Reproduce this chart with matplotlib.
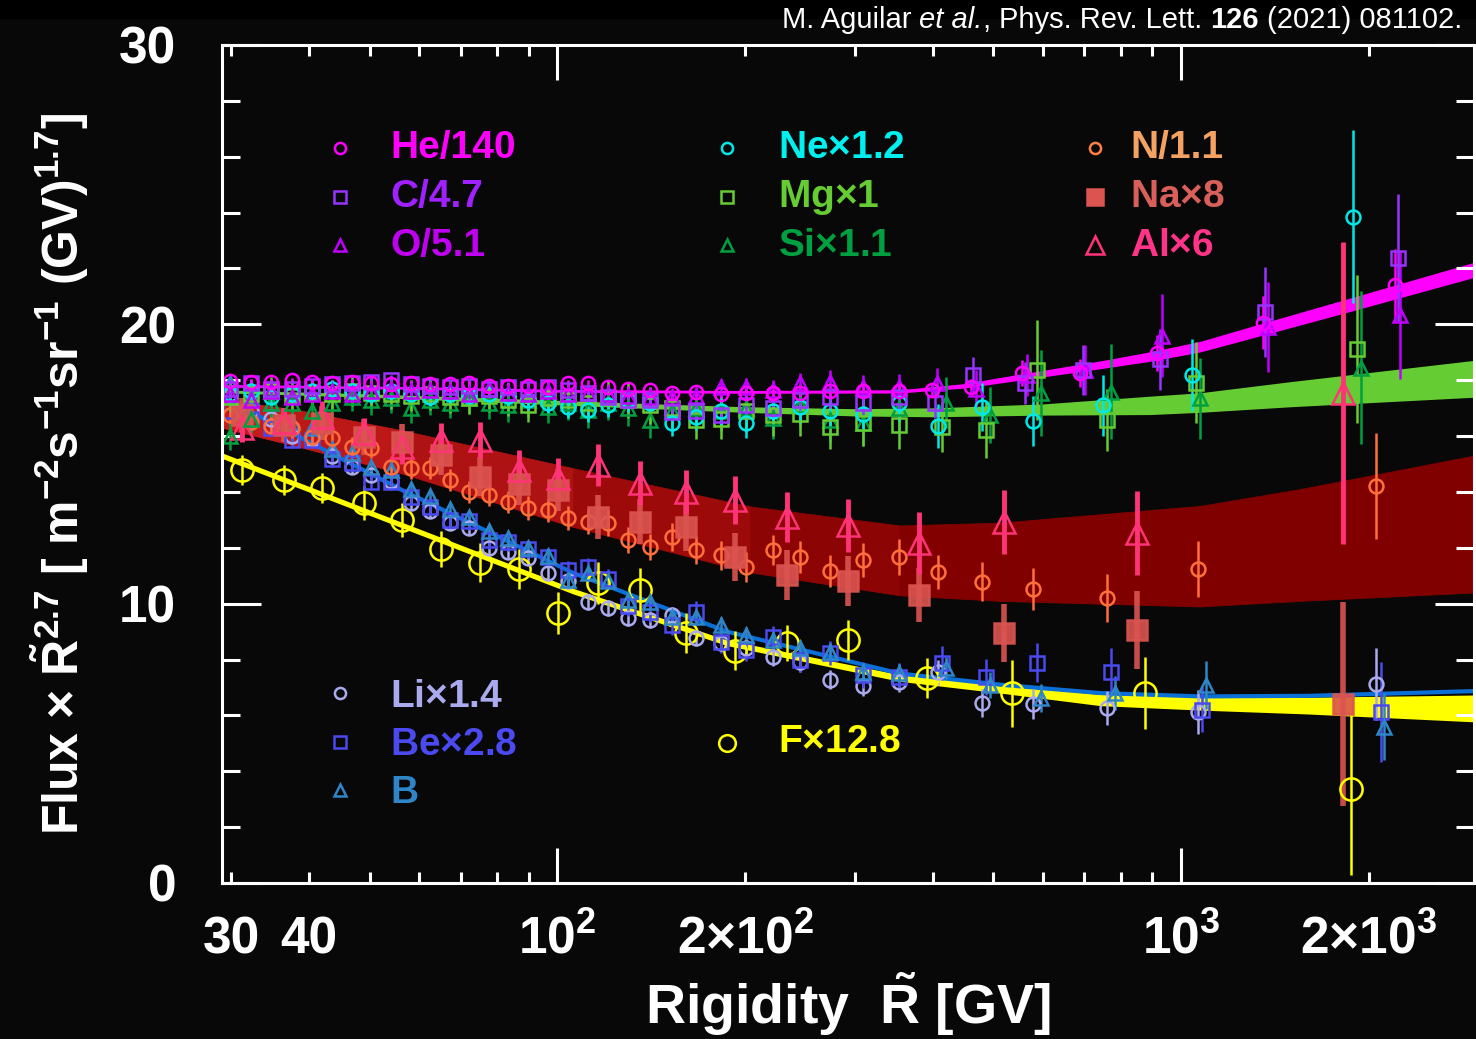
import matplotlib
matplotlib.use("Agg")
import matplotlib.pyplot as plt
import matplotlib.transforms as mtransforms
from matplotlib.patches import Rectangle
from matplotlib.lines import Line2D
from matplotlib.ticker import FixedLocator, NullFormatter

plt.rcParams["font.family"] = ["Liberation Sans", "DejaVu Sans"]
plt.rcParams["font.weight"] = "bold"
plt.rcParams["mathtext.fontset"] = "custom"
plt.rcParams["mathtext.rm"] = "Liberation Sans"
plt.rcParams["mathtext.it"] = "Liberation Sans:italic"
plt.rcParams["mathtext.bf"] = "Liberation Sans:bold"

BG = "#080808"

# rigidity bin centres [GV]
R_FINE = [29.9, 32.3, 34.8, 37.5, 40.4, 43.5, 46.8, 50.3, 54.1, 58.2,
          62.5, 67.2, 72.3, 77.7, 83.5, 89.7, 96.5, 104, 112, 120.5,
          130, 141, 153, 167, 183, 201, 222, 245, 274, 309, 353]
R_HCO = [399, 460, 556, 689, 915, 1352, 2203]
R_NMS = [408, 480, 580, 750, 1040, 1890]
R_LBB = [408, 480, 580, 760, 1066, 2058]
R_COARSE = [31.2, 36.4, 42.0, 48.9, 56.4, 65.0, 75.3, 86.9, 100.4, 116.3,
            135.8, 160.9, 192.7, 233.7, 292.6, 380, 520, 850, 1820]

# flux x R^2.7 (scaled)
HE_V = [17.97, 17.95, 17.95, 18.0, 17.95, 17.9, 17.95, 17.9, 17.85, 17.9,
        17.85, 17.85, 17.9, 17.8, 17.8, 17.8, 17.75, 17.9, 17.9, 17.76,
        17.7, 17.65, 17.54, 17.58, 17.5, 17.54, 17.55, 17.55, 17.6, 17.62,
        17.6, 17.65, 17.76, 18.26, 18.26, 18.97, 20.05, 21.41]
HE_E = [0.08, 0.08, 0.08, 0.08, 0.08, 0.08, 0.08, 0.08, 0.08, 0.08,
        0.08, 0.09, 0.09, 0.09, 0.09, 0.1, 0.1, 0.1, 0.1, 0.11,
        0.11, 0.12, 0.12, 0.13, 0.13, 0.14, 0.15, 0.16, 0.17, 0.18,
        0.2, 0.25, 0.3, 0.45, 0.5, 0.65, 0.95, 1.3]
C_V = [17.7, 17.9, 17.7, 17.7, 17.8, 17.85, 17.9, 17.95, 18.0, 17.85,
       17.8, 17.75, 17.8, 17.7, 17.75, 17.7, 17.75, 17.65, 17.54, 17.4,
       17.3, 17.3, 16.87, 16.9, 16.76, 17.1, 17.0, 17.3, 17.4, 17.2,
       17.4, 17.19, 18.19, 17.9, 18.37, 18.75, 20.44, 22.38]
C_E = [0.15, 0.15, 0.15, 0.15, 0.15, 0.15, 0.16, 0.16, 0.17, 0.17,
       0.18, 0.18, 0.19, 0.2, 0.2, 0.21, 0.22, 0.23, 0.24, 0.25,
       0.26, 0.27, 0.28, 0.3, 0.31, 0.33, 0.35, 0.37, 0.4, 0.43,
       0.47, 0.55, 0.65, 0.75, 0.9, 1.1, 1.6, 2.3]
O_V = [17.5, 17.3, 17.6, 17.4, 17.5, 17.6, 17.5, 17.6, 17.7, 17.6,
       17.65, 17.6, 17.5, 17.7, 17.55, 17.5, 17.6, 17.5, 17.55, 17.5,
       17.45, 17.4, 17.4, 17.45, 17.75, 17.75, 17.65, 17.9, 17.95, 17.75,
       17.75, 17.9, 17.7, 18.19, 18.37, 19.6, 19.9, 20.34]
O_E = [0.15, 0.15, 0.15, 0.15, 0.15, 0.15, 0.16, 0.16, 0.17, 0.17,
       0.18, 0.18, 0.19, 0.2, 0.2, 0.21, 0.22, 0.23, 0.24, 0.25,
       0.26, 0.27, 0.28, 0.3, 0.31, 0.33, 0.35, 0.37, 0.4, 0.43,
       0.47, 0.55, 0.65, 0.75, 0.9, 1.5, 1.6, 2.3]
NE_V = [17.5, 17.6, 17.4, 17.5, 17.6, 17.7, 17.6, 17.5, 17.6, 17.5,
        17.4, 17.5, 17.45, 17.5, 17.45, 17.3, 17.2, 17.04, 16.93, 17.1,
        17.3, 17.2, 16.47, 16.7, 16.9, 16.47, 16.9, 17.04, 16.9, 16.8,
        17.2, 16.36, 17.04, 16.54, 17.1, 18.19, 23.85]
NE_E = [0.3, 0.3, 0.3, 0.3, 0.3, 0.3, 0.3, 0.32, 0.32, 0.33,
        0.33, 0.34, 0.35, 0.36, 0.37, 0.38, 0.4, 0.4, 0.42, 0.43,
        0.45, 0.46, 0.48, 0.5, 0.52, 0.54, 0.56, 0.58, 0.6, 0.63,
        0.66, 0.8, 0.85, 0.9, 1.1, 1.3, 3.1]
MG_V = [17.4, 17.5, 17.6, 17.45, 17.55, 17.5, 17.6, 17.55, 17.5, 17.45,
        17.5, 17.4, 17.35, 17.45, 17.3, 17.1, 17.35, 17.3, 17.2, 17.36,
        17.3, 17.1, 17.0, 16.58, 16.6, 16.9, 16.76, 16.8, 16.33, 16.45,
        16.4, 16.33, 16.22, 18.37, 16.58, 17.9, 19.12]
MG_E = [0.5, 0.5, 0.5, 0.5, 0.5, 0.52, 0.52, 0.53, 0.54, 0.55,
        0.55, 0.56, 0.57, 0.58, 0.59, 0.6, 0.6, 0.62, 0.63, 0.64,
        0.65, 0.66, 0.68, 0.7, 0.72, 0.74, 0.76, 0.78, 0.8, 0.82,
        0.85, 0.9, 1.0, 1.8, 1.1, 1.45, 2.65]
SI_V = [16.0, 16.6, 17.2, 17.2, 16.9, 17.2, 17.4, 17.3, 17.35, 17.0,
        17.3, 17.2, 17.35, 17.2, 17.1, 17.3, 17.05, 17.2, 16.93, 17.2,
        17.0, 16.58, 16.9, 17.0, 16.9, 17.0, 16.65, 17.1, 16.58, 16.47,
        17.0, 17.2, 16.76, 17.54, 17.58, 17.36, 18.45]
SI_E = [0.5, 0.5, 0.5, 0.5, 0.5, 0.52, 0.52, 0.53, 0.54, 0.55,
        0.55, 0.56, 0.57, 0.58, 0.59, 0.6, 0.6, 0.62, 0.63, 0.64,
        0.65, 0.66, 0.68, 0.7, 0.72, 0.74, 0.76, 0.78, 0.8, 0.82,
        0.85, 0.9, 1.0, 1.55, 1.7, 1.45, 2.75]
N_V = [16.76, 16.5, 16.36, 16.29, 15.97, 15.93, 15.61, 15.57, 14.89, 14.86,
       14.86, 14.43, 14.0, 13.89, 13.64, 13.43, 13.36, 13.07, 12.93, 12.89,
       12.28, 12.03, 12.39, 11.92, 11.74, 11.31, 11.92, 11.67, 11.17, 11.56,
       11.67, 11.13, 10.78, 10.53, 10.2, 11.24, 14.21]
N_E = [0.35, 0.35, 0.35, 0.35, 0.35, 0.36, 0.36, 0.37, 0.37, 0.38,
       0.38, 0.39, 0.4, 0.4, 0.41, 0.42, 0.43, 0.44, 0.45, 0.46,
       0.47, 0.48, 0.5, 0.51, 0.52, 0.54, 0.55, 0.57, 0.59, 0.61,
       0.63, 0.6, 0.7, 0.75, 0.85, 1.0, 1.9]
LI_V = [17.5, 16.9, 16.6, 16.0, 15.9, 15.3, 14.9, 14.6, 14.4, 13.6,
        13.3, 12.9, 12.7, 12.0, 11.86, 11.64, 11.1, 10.8, 10.06, 9.85,
        9.49, 9.42, 9.6, 8.77, 8.6, 8.4, 8.09, 7.9, 7.27, 7.05,
        7.2, 7.55, 6.44, 6.41, 6.27, 6.12, 7.12]
LI_E = [0.25, 0.25, 0.25, 0.25, 0.25, 0.25, 0.25, 0.25, 0.25, 0.25,
        0.25, 0.25, 0.25, 0.26, 0.26, 0.26, 0.27, 0.27, 0.27, 0.28,
        0.28, 0.29, 0.29, 0.3, 0.3, 0.31, 0.32, 0.33, 0.34, 0.35,
        0.36, 0.45, 0.5, 0.55, 0.6, 0.8, 1.3]
BE_V = [16.9, 16.6, 16.29, 15.87, 15.86, 15.18, 15.04, 14.36, 14.36, 13.82,
        13.46, 13.0, 12.96, 12.28, 12.21, 11.96, 11.67, 11.2, 11.3, 10.9,
        9.9, 9.7, 9.24, 9.7, 8.63, 8.34, 8.8, 7.98, 8.23, 7.45,
        7.38, 7.88, 7.38, 7.88, 7.55, 6.2, 6.12]
BE_E = [0.3, 0.3, 0.3, 0.3, 0.3, 0.3, 0.3, 0.3, 0.3, 0.3,
        0.3, 0.3, 0.31, 0.31, 0.32, 0.32, 0.33, 0.33, 0.34, 0.35,
        0.35, 0.36, 0.37, 0.38, 0.39, 0.4, 0.41, 0.42, 0.44, 0.46,
        0.48, 0.6, 0.65, 0.7, 0.85, 0.8, 1.8]
B_V = [17.9, 17.4, 17.2, 16.5, 16.3, 15.55, 15.4, 14.9, 14.8, 14.1,
       13.86, 13.4, 13.1, 12.6, 12.35, 12.0, 11.7, 10.85, 11.1, 10.8,
       10.13, 10.06, 9.52, 9.52, 9.24, 8.88, 8.7, 8.41, 8.27, 7.55,
       7.52, 7.7, 7.09, 6.62, 6.8, 7.09, 5.59]
B_E = [0.2, 0.2, 0.2, 0.2, 0.2, 0.2, 0.2, 0.2, 0.2, 0.2,
       0.2, 0.2, 0.21, 0.21, 0.22, 0.22, 0.23, 0.23, 0.24, 0.24,
       0.25, 0.25, 0.26, 0.26, 0.27, 0.28, 0.29, 0.3, 0.31, 0.32,
       0.33, 0.4, 0.45, 0.5, 0.6, 0.85, 1.2]
F_V = [14.79, 14.43, 14.14, 13.6, 13.0, 11.96, 11.46, 11.24, 9.67, 10.74,
       10.49, 8.95, 8.31, 8.59, 8.7, 7.34, 6.8, 6.8, 3.37]
F_E = [0.55, 0.55, 0.55, 0.6, 0.6, 0.65, 0.7, 0.7, 0.75, 0.75,
       0.8, 0.7, 0.7, 0.65, 0.7, 0.7, 1.2, 1.3, 3.1]
NA_V = [16.76, 16.4, 16.47, 15.97, 15.79, 15.32, 14.54, 14.29, 14.07, 13.1,
        12.93, 12.75, 11.67, 11.03, 10.81, 10.31, 8.95, 9.06, 6.41]
NA_E = [0.6, 0.6, 0.6, 0.65, 0.65, 0.7, 0.7, 0.75, 0.75, 0.8,
        0.8, 0.85, 0.85, 0.9, 0.9, 0.95, 1.05, 1.4, 3.65]
AL_V = [16.3, 16.5, 16.7, 16.1, 15.6, 15.86, 15.86, 14.8, 14.5, 14.97,
        14.32, 14.0, 13.71, 13.1, 12.8, 12.17, 12.93, 12.53, 17.54]
AL_E = [0.5, 0.5, 0.55, 0.55, 0.6, 0.6, 0.65, 0.7, 0.7, 0.75,
        0.8, 0.8, 0.85, 0.9, 0.95, 1.1, 1.15, 1.5, 5.4]

# fitted curves: centre and half width
HE_FIT_R = [29, 60, 100, 200, 354, 450, 513, 742, 894, 1073, 1290, 1867, 2950]
HE_FIT = [17.8, 17.72, 17.62, 17.58, 17.6, 17.8, 18.0, 18.55, 18.85, 19.2, 19.7, 20.7, 21.95]
HE_FIT_W = [0.05, 0.05, 0.05, 0.05, 0.06, 0.08, 0.1, 0.14, 0.17, 0.19, 0.21, 0.24, 0.27]
NMS_FIT_R = [29, 50, 100, 150, 200, 300, 400, 600, 894, 1073, 1500, 2950]
NMS_FIT = [17.6, 17.45, 17.2, 17.05, 16.95, 16.85, 16.85, 16.95, 17.1, 17.2, 17.5, 18.05]
NMS_FIT_W = [0.05, 0.06, 0.08, 0.09, 0.1, 0.13, 0.16, 0.2, 0.33, 0.35, 0.45, 0.66]
NNA_FIT_R = [29, 38, 56, 106, 204, 354, 513, 1073, 1550, 2950]
NNA_FIT = [16.8, 16.3, 15.45, 13.8, 12.3, 11.55, 11.5, 11.7, 12.1, 12.85]
NNA_FIT_W = [0.5, 0.65, 0.77, 1.05, 1.18, 1.25, 1.4, 1.8, 2.0, 2.45]
LBB_FIT_R = [29, 56, 106, 187, 354, 513, 742, 1073, 1600, 2950]
LBB_FIT = [17.4, 14.1, 11.1, 9.0, 7.5, 7.1, 6.8, 6.68, 6.7, 6.87]
F_FIT_R = [29, 106, 187, 354, 513, 742, 1073, 1600, 2950]
F_FIT = [15.3, 10.45, 8.6, 7.34, 6.95, 6.55, 6.43, 6.35, 6.25]
F_FIT_W = [0.1, 0.1, 0.1, 0.12, 0.15, 0.2, 0.24, 0.3, 0.48]

XLAB_POS = [30, 40, 100, 200, 1000, 2000]
XLAB_TXT = ["30", "40", r"$\mathbf{10^{2}}$", r"$\mathbf{2}{\times}\mathbf{10^{2}}$",
            r"$\mathbf{10^{3}}$", r"$\mathbf{2}{\times}\mathbf{10^{3}}$"]

W, H = 1476, 1039
fig = plt.figure(figsize=(W / 100, H / 100), dpi=100, facecolor=BG)
fig.patches.append(Rectangle((0, 1 - 18 / H), 1, 18 / H, transform=fig.transFigure,
                             color="black", zorder=0))
ax = fig.add_axes([222 / W, 1 - 883 / H, 1252 / W, 838 / H], facecolor=BG)
ax.set_xscale("log")
ax.set_xlim(29, 2950)
ax.set_ylim(0, 30)


def band(r, c, w, color, z=1):
    ax.fill_between(r, [a - b for a, b in zip(c, w)], [a + b for a, b in zip(c, w)],
                    color=color, lw=0, zorder=z)


# N/Na/Al band: brighter where the low-rigidity bands overlap
red_shades = ["#C41C1C", "#BC1818", "#AE1212", "#9C0A0A", "#8C0404",
              "#820000", "#800000", "#800000", "#800000"]
for i, col in enumerate(red_shades):
    seg = slice(i, i + 2)
    ax.fill_between(NNA_FIT_R[seg],
                    [a - b for a, b in zip(NNA_FIT[seg], NNA_FIT_W[seg])],
                    [a + b for a, b in zip(NNA_FIT[seg], NNA_FIT_W[seg])],
                    color=col, lw=0.6, edgecolor=col, zorder=1)
band(F_FIT_R, F_FIT, F_FIT_W, "#FFFF00", z=1.2)
ax.plot(LBB_FIT_R, LBB_FIT, color="#0A6FD6", lw=3, zorder=1.3)
band(NMS_FIT_R, NMS_FIT, NMS_FIT_W, "#66CC33", z=1.4)
band(HE_FIT_R, HE_FIT, HE_FIT_W, "#FF00FF", z=1.5)


def pts(r, v, e, color, marker, ms, filled=False, elw=1.8, shift=1.0, z=3, alpha=1.0):
    x = [a * shift if a > 370 else a for a in r]
    ax.errorbar(x, v, yerr=e, fmt=marker, color=color, ms=ms,
                mfc=color if filled else "none", mec=color, mew=1.8,
                elinewidth=elw, capsize=0, zorder=z, alpha=alpha)


pts(R_COARSE, F_V, F_E, "#FFFF00", "o", 16, shift=1.03)
pts(R_FINE + R_LBB, LI_V, LI_E, "#AAAAEE", "o", 10)
pts(R_FINE + R_LBB, BE_V, BE_E, "#4A4AF0", "s", 10, shift=1.015)
pts(R_FINE + R_LBB, B_V, B_E, "#2E86C8", "^", 10.5, shift=1.03)
pts(R_FINE + R_LBB, N_V, N_E, "#FF6F3C", "o", 10)
pts(R_COARSE, NA_V, NA_E, "#DB5450", "s", 14, filled=True, elw=4, alpha=0.9)
pts(R_COARSE, AL_V, AL_E, "#FF3377", "^", 16, elw=3.5)
pts(R_FINE + R_NMS, SI_V, SI_E, "#00A040", "^", 10.5, shift=1.03)
pts(R_FINE + R_NMS, MG_V, MG_E, "#66CC33", "s", 9.5, shift=1.015)
pts(R_FINE + R_NMS, NE_V, NE_E, "#00E8E8", "o", 10)
pts(R_FINE + R_HCO, O_V, O_E, "#C000FF", "^", 10, shift=1.02)
pts(R_FINE + R_HCO, C_V, C_E, "#9933FF", "s", 9.5, shift=1.01)
pts(R_FINE + R_HCO, HE_V, HE_E, "#FF00FF", "o", 9.5)

# legend, placed in figure pixels
legend = [
    ("He/140", "#FF00FF", "#FF00FF", "o", 8, False, 340, 148, 390, 158),
    ("C/4.7", "#9933FF", "#A020FF", "s", 8, False, 340, 197, 390, 207),
    ("O/5.1", "#C000FF", "#C000F0", "^", 8, False, 340, 245, 390, 256),
    (r"Ne$\times$1.2", "#00E8E8", "#00F0F0", "o", 8, False, 727, 148, 778, 158),
    (r"Mg$\times$1", "#66CC33", "#66CC33", "s", 8, False, 727, 197, 778, 207),
    (r"Si$\times$1.1", "#00A040", "#00A040", "^", 8, False, 727, 245, 778, 256),
    ("N/1.1", "#FF7F45", "#F4A262", "o", 8, False, 1095, 148, 1130, 158),
    (r"Na$\times$8", "#DB5450", "#D9605A", "s", 12, True, 1095, 197, 1130, 207),
    (r"Al$\times$6", "#FF3377", "#FF3388", "^", 13, False, 1095, 245, 1130, 256),
    (r"Li$\times$1.4", "#AAAAEE", "#AAAAEE", "o", 8, False, 340, 693, 390, 707),
    (r"Be$\times$2.8", "#4A4AF0", "#4A4AF0", "s", 8, False, 340, 742, 390, 755),
    ("B", "#2E86C8", "#2E86C8", "^", 8, False, 340, 790, 390, 803),
    (r"F$\times$12.8", "#FFFF00", "#FFFF00", "o", 12, False, 727, 743, 778, 752),
]
for txt, mc, tc, mk, ms, filled, mx, my, tx, ty in legend:
    fig.add_artist(Line2D([mx / W], [1 - my / H], marker=mk, ms=ms, mew=1.8,
                          mec=mc, mfc=mc if filled else "none", ls="none",
                          transform=fig.transFigure))
    fig.text(tx / W, 1 - ty / H, txt, color=tc, fontsize=28, ha="left", va="baseline")

# axes styling
ax.xaxis.set_major_locator(FixedLocator([100, 1000]))
ax.xaxis.set_minor_locator(FixedLocator([30, 40, 50, 60, 70, 80, 90, 200, 300, 400,
                                         500, 600, 700, 800, 900, 2000]))
ax.xaxis.set_major_formatter(NullFormatter())
ax.xaxis.set_minor_formatter(NullFormatter())
ax.yaxis.set_major_locator(FixedLocator([0, 10, 20, 30]))
ax.yaxis.set_minor_locator(FixedLocator([2, 4, 6, 8, 12, 14, 16, 18, 22, 24, 26, 28]))
ax.tick_params(axis="x", which="major", direction="in", length=25, width=2.2,
               color="white", top=True, bottom=True)
ax.tick_params(axis="x", which="minor", direction="in", length=8, width=2.2,
               color="white", top=True, bottom=True)
ax.tick_params(axis="y", which="major", direction="in", length=28, width=2.2,
               color="white", left=True, right=True, labelsize=37,
               labelcolor="white", pad=33)
ax.tick_params(axis="y", which="minor", direction="in", length=13, width=2.2,
               color="white", left=True, right=True)
for sp in ax.spines.values():
    sp.set_color("white")
    sp.set_linewidth(2.2)
    sp.set_zorder(5)

trans = mtransforms.blended_transform_factory(ax.transData, ax.transAxes)
for xv, t in zip(XLAB_POS, XLAB_TXT):
    ax.text(xv, -(953 - 883) / 838, t, transform=trans, ha="center", va="baseline",
            fontsize=37, color="white", clip_on=False)

fig.text(848 / W, 1 - 1024 / H, r"Rigidity  $\tilde{\mathbf{R}}$ [GV]", color="white",
         fontsize=40, ha="center", va="baseline")
fig.text(60 / W, 1 - 474 / H,
         r"Flux $\times$ $\tilde{\mathbf{R}}^{\mathbf{2.7}}$ [ $\mathbf{m^{-2}s^{-1}sr^{-1}\ (GV)^{1.7}}$]",
         color="white", fontsize=36, rotation=90, ha="center", va="center")

# citation line: plain / italic / bold pieces set side by side, right aligned
cite = [("M. Aguilar", "normal", "normal", 0), ("et al.", "italic", "normal", 1),
        (",", "normal", "normal", 0), ("Phys. Rev. Lett.", "normal", "normal", 1),
        ("126", "normal", "bold", 1), ("(2021) 081102.", "normal", "normal", 1)]
renderer = fig.canvas.get_renderer()
cite_fs = 21
space = 0.278 * cite_fs * 100 / 72
items = []
for s, style, weight, gap in cite:
    t = fig.text(0, 1 - 28 / H, s, color="white", fontsize=cite_fs, fontstyle=style,
                 fontweight=weight, ha="left", va="baseline")
    items.append((t, t.get_window_extent(renderer).width, gap))
total = sum(w + g * space for _, w, g in items)
x = 1462 - total
for t, w, g in items:
    x += g * space
    t.set_x(x / W)
    x += w

fig.savefig("out.png", dpi=100, facecolor=fig.get_facecolor())
